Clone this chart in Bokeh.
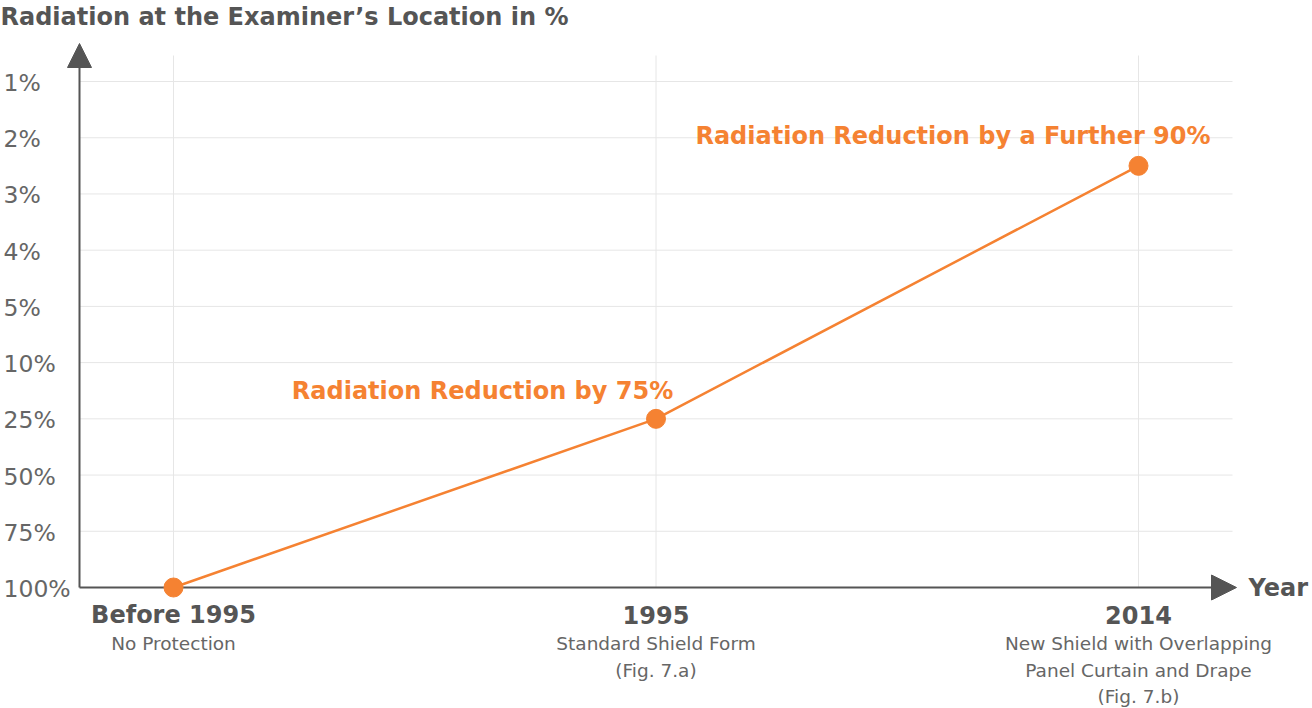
import numpy as np
from bokeh.plotting import figure
from bokeh.models import Range1d, Arrow, NormalHead
from bokeh.core.properties import value
from bokeh.embed import file_html
from bokeh.resources import INLINE

# ---------------- data ----------------
title_text = "Radiation at the Examiner\u2019s Location in %"
x_axis_title = "Year"
years = ["Before 1995", "1995", "2014"]
descriptions = [
    "No Protection",
    "Standard Shield Form\n(Fig. 7.a)",
    "New Shield with Overlapping\nPanel Curtain and Drape\n(Fig. 7.b)",
]
y_tick_labels = ["100%", "75%", "50%", "25%", "10%", "5%", "4%", "3%", "2%", "1%"]
y_tick_values = [100, 75, 50, 25, 10, 5, 4, 3, 2, 1]
radiation_pct = [100, 25, 2.5]
annotations = ["Radiation Reduction by 75%", "Radiation Reduction by a Further 90%"]
annotated_points = [1, 2]

# ---------------- styling / layout ----------------
FONT = "DejaVu Sans"
ORANGE = "#F58232"
AXIS = "#555555"
GRID = "#e6e6e6"
DARK = "#555555"
MID = "#666666"

W, H = 1312, 708
# pixel geometry (page coordinates) used to build the ranges
X0, DXP = 173.0, 482.5       # page x of first category, px per category
Y0, DYP = 587.0, 56.22       # page y of lowest tick, px per tick step


def dx(px):
    return (px - X0) / DXP


def dy(py):
    return (Y0 - py) / DYP


# ordinal y scale: map a percentage to its position between tick labels
tick_pos = np.arange(len(y_tick_values))
xp = np.array(y_tick_values[::-1], dtype=float)
fp = tick_pos[::-1].astype(float)
y_pos = np.interp(radiation_pct, xp, fp)
x_pos = np.arange(len(years))

p = figure(width=W, height=H,
           x_range=Range1d(dx(0), dx(W)), y_range=Range1d(dy(H), dy(0)),
           x_axis_location=None, y_axis_location=None,
           toolbar_location=None, output_backend="svg", min_border=0)
p.outline_line_color = None
p.background_fill_color = "white"
p.xgrid.visible = False
p.ygrid.visible = False

# grid lines
hy = tick_pos[1:]
p.segment(x0=[dx(79)] * len(hy), y0=hy, x1=[dx(1232)] * len(hy), y1=hy,
          line_color=GRID, line_width=1, level="underlay")
p.segment(x0=x_pos, y0=[0] * len(x_pos), x1=x_pos, y1=[dy(55)] * len(x_pos),
          line_color=GRID, line_width=1, level="underlay")

# axes with arrow heads
p.add_layout(Arrow(end=NormalHead(size=24, fill_color=AXIS, line_color=AXIS, line_width=1),
                   x_start=dx(79), y_start=0, x_end=dx(79), y_end=dy(43),
                   line_color=AXIS, line_width=2, level="underlay"))
p.add_layout(Arrow(end=NormalHead(size=25, fill_color=AXIS, line_color=AXIS, line_width=1),
                   x_start=dx(79), y_start=0, x_end=dx(1236), y_end=0,
                   line_color=AXIS, line_width=2, level="underlay"))

# series
p.line(x=x_pos, y=y_pos, line_color=ORANGE, line_width=2.5)
p.scatter(x=x_pos, y=y_pos, size=19, fill_color=ORANGE, line_color=ORANGE)

# annotations
p.text(x=[x_pos[i] for i in annotated_points], y=[y_pos[i] for i in annotated_points],
       text=annotations, x_offset=[-173.5, -185.5], y_offset=[-28, -30],
       text_font=value(FONT), text_font_size="24px", text_font_style="bold",
       text_color=ORANGE, text_align="center", text_baseline="middle")

# y tick labels
p.text(x=[dx(3)] * len(tick_pos), y=tick_pos, text=y_tick_labels, y_offset=1.5,
       text_font=value(FONT), text_font_size="23.5px", text_color=MID,
       text_align="left", text_baseline="middle")

# x category labels
p.text(x=x_pos, y=[0] * len(x_pos), text=years, y_offset=27,
       text_font=value(FONT), text_font_size="24px", text_font_style="bold",
       text_color=DARK, text_align="center", text_baseline="middle")
p.text(x=x_pos, y=[0] * len(x_pos), text=descriptions, y_offset=45.5,
       text_font=value(FONT), text_font_size="18.5px", text_color=MID,
       text_align="center", text_baseline="top", text_line_height=1.27)

# axis titles
p.text(x=[dx(0)], y=[dy(16)], text=[title_text],
       text_font=value(FONT), text_font_size="24px", text_font_style="bold",
       text_color=DARK, text_align="left", text_baseline="middle")
p.text(x=[dx(1248)], y=[0], text=[x_axis_title],
       text_font=value(FONT), text_font_size="24px", text_font_style="bold",
       text_color=DARK, text_align="left", text_baseline="middle")

open("out.html", "w").write(file_html(p, INLINE))
